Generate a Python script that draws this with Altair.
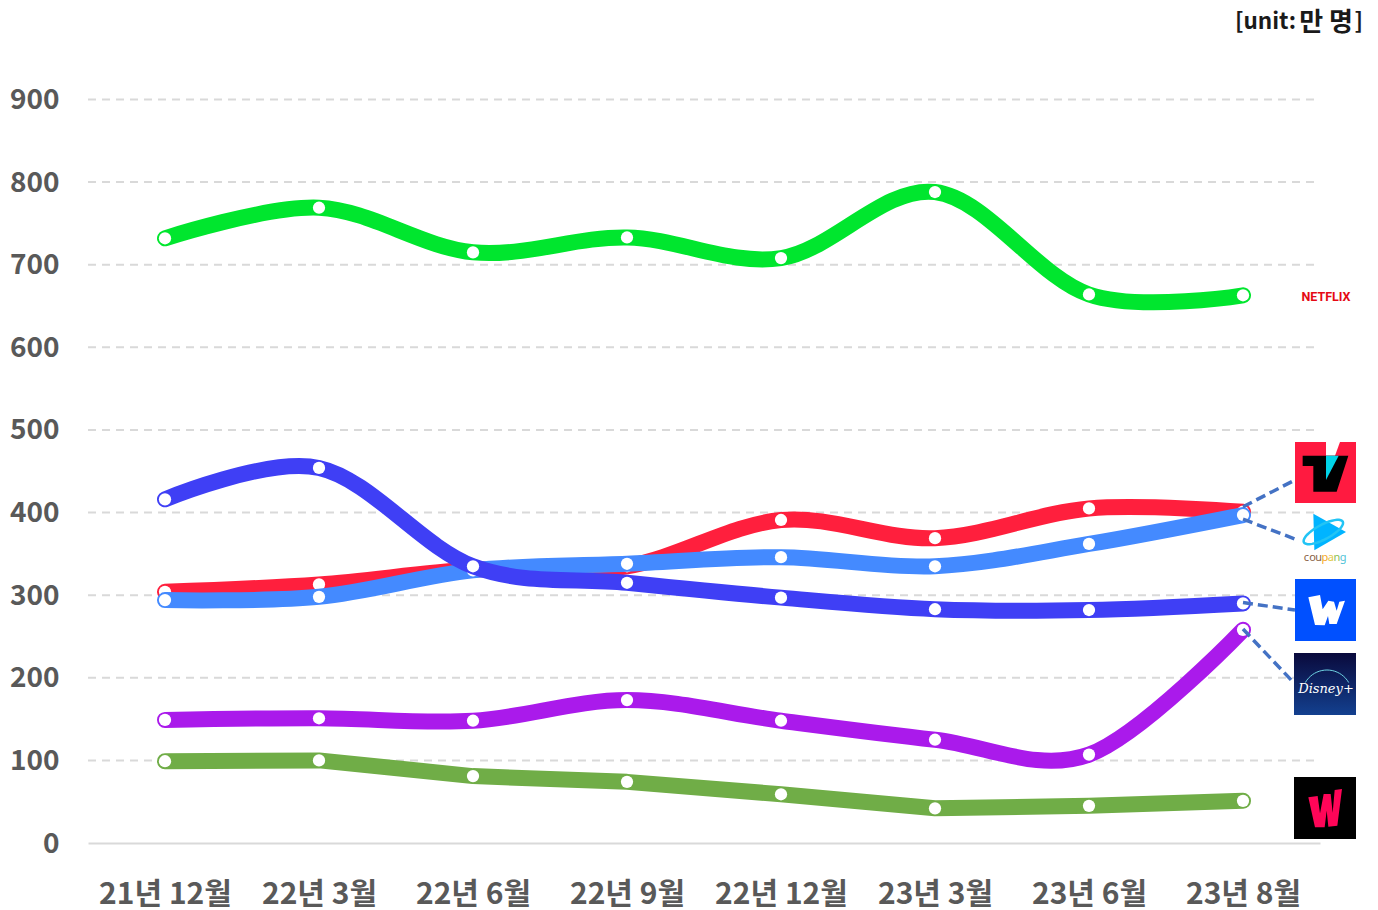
import math
import altair as alt
import pandas as pd

periods = ["21년 12월", "22년 3월", "22년 6월", "22년 9월", "22년 12월", "23년 3월", "23년 6월", "23년 8월"]
netflix = [732, 769, 715, 733, 708, 788, 664, 663]
watcha = [99, 100, 81, 74, 59, 42, 45, 51]
disney = [149, 151, 148, 173, 148, 125, 107, 258]
tving = [304, 313, 331, 335, 391, 369, 405, 401]
coupang = [294, 298, 330, 338, 346, 335, 362, 397]
wavve = [416, 454, 335, 315, 297, 283, 282, 290]
y_ticks = [100, 200, 300, 400, 500, 600, 700, 800, 900]

series = [
    ("Netflix", netflix, "#00E62E", "cardinal"),
    ("Watcha", watcha, "#70AD47", "linear"),
    ("Disney+", disney, "#AA1AEB", "cardinal"),
    ("TVING", tving, "#FF1F3D", "cardinal"),
    ("Coupang Play", coupang, "#448AFF", "cardinal"),
    ("Wavve", wavve, "#3F3FF5", "cardinal"),
]

W, H = 1232, 743.5
LEFT, TOP = 88, 99.5
FONT = "Noto Sans CJK KR"
x_scale = alt.Scale(domain=[-0.5, 7.5], range=[0, W], nice=False, zero=False)
y_scale = alt.Scale(domain=[0, 900], range=[H, 0], nice=False)
labels_js = "[" + ",".join(f"'{p}'" for p in periods) + "][datum.value]"


def vx(px):
    return alt.value(px - LEFT)


def vy(px):
    return alt.value(px - TOP)


dummy = pd.DataFrame({"a": [0]})


def rect(x0, x1, y0, y1, fill):
    return alt.Chart(dummy).mark_rect(fill=fill).encode(x=vx(x0), x2=vx(x1), y=vy(y0), y2=vy(y1))


def poly(points, cx, cy, half):
    out = []
    for i, (px, py) in enumerate(points):
        out.append(("M" if i == 0 else "L") + f"{(px - cx) / half:.3f},{(py - cy) / half:.3f}")
    return " ".join(out) + " Z"


def shape(path, x, y, half, fill=None, stroke=None, sw=0):
    kw = {"shape": path, "size": (2 * half) ** 2, "opacity": 1}
    if fill:
        kw.update(fill=fill, filled=True, strokeWidth=0)
    if stroke:
        kw.update(stroke=stroke, filled=False, fillOpacity=0, strokeWidth=sw)
    return alt.Chart(dummy).mark_point(**kw).encode(x=vx(x), y=vy(y))


def text(s, x, y, size, color, **kw):
    return alt.Chart(pd.DataFrame({"t": [s]})).mark_text(
        fontSize=size, color=color, baseline="middle", **kw
    ).encode(x=vx(x), y=vy(y), text="t:N")


layers = []

x_axis = alt.Axis(
    values=list(range(8)), labelExpr=labels_js, ticks=False, grid=False,
    domainColor="#D9D9D9", domainWidth=2, labelFont=FONT, labelFontSize=30, labelFontWeight="bold",
    labelColor="#595959", labelPadding=51, labelOverlap=False, labelBaseline="middle")
y_axis = alt.Axis(
    values=[0] + y_ticks, ticks=False, grid=False, domain=False, labelOffset=1,
    labelFont=FONT, labelFontSize=28, labelFontWeight="bold", labelColor="#595959", labelPadding=29)

# axes
axes = alt.Chart(pd.DataFrame({"i": list(range(8)), "v": [0] * 8})).mark_point(opacity=0).encode(
    x=alt.X("i:Q", scale=x_scale, title=None, axis=x_axis),
    y=alt.Y("v:Q", scale=y_scale, title=None, axis=y_axis),
)
layers.append(axes)

# grid
grid = alt.Chart(pd.DataFrame({"v": y_ticks})).mark_rule(
    color="#D9D9D9", strokeWidth=2, strokeDash=[8, 6]
).encode(x=vx(88), x2=vx(1315), y=alt.Y("v:Q", scale=y_scale))
layers.append(grid)

# series
for name, vals, col, curve in series:
    df = pd.DataFrame({"i": list(range(8)), "v": vals})
    base = alt.Chart(df).encode(
        x=alt.X("i:Q", scale=x_scale),
        y=alt.Y("v:Q", scale=y_scale),
    )
    if curve == "cardinal":
        line = base.mark_line(color=col, strokeWidth=16, interpolate="cardinal", tension=0, strokeCap="round")
    else:
        line = base.mark_line(color=col, strokeWidth=16, interpolate="linear", strokeCap="round", strokeJoin="round")
    layers.append(line)
    layers.append(base.mark_point(filled=True, fill="white", strokeWidth=0, size=150, opacity=1))

# connectors
conn_start = [(7, 407, 1295, 480), (7, 392, 1295, 539), (7, 291, 1295, 610), (7, 259, 1294, 683)]
for sx, sv, ex, ey in conn_start:
    layers.append(
        alt.Chart(pd.DataFrame({"i": [sx], "v": [sv]})).mark_rule(
            color="#4472C4", strokeWidth=3.5, strokeDash=[10, 5]
        ).encode(
            x=alt.X("i:Q", scale=x_scale), y=alt.Y("v:Q", scale=y_scale),
            x2=vx(ex), y2=vy(ey),
        )
    )

# NETFLIX
layers.append(text("NETFLIX", 1326, 297, 12.5, "#E50914", font="Roboto", fontWeight="bold", align="center"))

# TVING
layers.append(rect(1295, 1356, 442, 503, "#FF1A40"))
cx, cy, hf = 436.5, 637.5, 91.5
sx, sy = 1325.5, 472.5
layers.append(shape(poly([(438, 546), (480, 546), (465, 587), (438, 587)], cx, cy, hf), sx, sy, 30.5, fill="#FFFFFF"))
layers.append(shape(poly([(368, 587), (505, 587), (470, 695), (400, 695), (400, 618), (368, 618)], cx, cy, hf), sx, sy, 30.5, fill="#000000"))
layers.append(shape(poly([(438, 587), (476, 587), (438, 660)], cx, cy, hf), sx, sy, 30.5, fill="#00D4E8"))

# Coupang play
cx, cy, hf = 436.5, 815, 60
sx, sy = 1325.5, 532
layers.append(shape(poly([(400, 760), (498, 815), (403, 870)], cx, cy, hf), sx, sy, 20, fill="#00B4FF"))
ring = []
for k in range(40):
    t = 2 * math.pi * k / 40
    ex, ey = 66 * math.cos(t), 22 * math.sin(t)
    ang = math.radians(-28)
    ring.append((430 + ex * math.cos(ang) - ey * math.sin(ang), 815 + ex * math.sin(ang) + ey * math.cos(ang)))
layers.append(shape(poly(ring, cx, cy, hf), sx, sy, 20, stroke="#22C4F5", sw=2.5))
letters = [("c", "#8A6246"), ("o", "#8A6246"), ("u", "#8A6246"), ("p", "#F5A623"), ("a", "#E3CB4A"), ("n", "#8CC152"), ("g", "#4FC3D7")]
for k, (ch, col) in enumerate(letters):
    layers.append(text(ch, 1306.5 + k * 6.1, 558, 11, col, font="Noto Sans", align="center"))

# Wavve
layers.append(rect(1295, 1356, 579, 641, "#0050FF"))
cx, cy, hf = 436.5, 120, 91.5
sx, sy = 1325.5, 610
w_wavve = [(385, 82), (420, 75), (428, 118), (445, 92), (462, 95), (470, 122), (478, 95), (495, 92), (470, 162), (448, 162), (444, 138), (434, 166), (405, 165)]
layers.append(shape(poly(w_wavve, cx, cy, hf), sx, sy, 30.5, fill="#FFFFFF"))

# Disney+
grad = alt.Gradient(gradient="linear", x1=0, y1=0, x2=0, y2=1,
                    stops=[alt.GradientStop(color="#0A0A3C", offset=0), alt.GradientStop(color="#13408F", offset=1)])
layers.append(alt.Chart(dummy).mark_rect(fill=grad).encode(x=vx(1294), x2=vx(1356), y=vy(653), y2=vy(715)))
layers.append(text("Disney+", 1326, 689, 13, "#FFFFFF", font="DejaVu Serif", fontStyle="italic", align="center"))
arc = []
for k in range(21):
    t = math.radians(-150 + 120 * k / 20)
    arc.append((1327 + 25 * math.cos(t), 695 + 25 * math.sin(t)))
arc_path = " ".join(("M" if i == 0 else "L") + f"{(px - 1326) / 31:.3f},{(py - 684) / 31:.3f}" for i, (px, py) in enumerate(arc))
layers.append(shape(arc_path, 1326, 684, 31, stroke="#6FD4E4", sw=1))

# Watcha
layers.append(rect(1294, 1356, 777, 839, "#000000"))
cx, cy, hf = 435, 714, 93
sx, sy = 1325, 808
w_watcha = [(385, 682), (413, 678), (420, 730), (431, 672), (452, 672), (458, 728), (464, 660), (486, 657), (472, 767), (445, 770), (440, 722), (434, 772), (405, 772)]
layers.append(shape(poly(w_watcha, cx, cy, hf), sx, sy, 31, fill="#FF0558"))

# unit
layers.append(text("[unit:", 1296, 22, 22.5, "#1A1A1A", font=FONT, fontWeight="bold", align="right"))
layers.append(text("만 명", 1326, 23, 26, "#1A1A1A", font=FONT, fontWeight="bold", align="center"))
layers.append(text("]", 1363, 22, 22.5, "#1A1A1A", font=FONT, fontWeight="bold", align="right"))

chart = alt.layer(*layers).resolve_scale(x="shared", y="shared").properties(
    width=W, height=H,
    padding={"left": 80, "top": 91.5, "right": 50, "bottom": 75},
    autosize=alt.AutoSizeParams(type="none"),
).configure_view(stroke=None).configure_axis(labelFlush=False)

chart.save("out.html", embed_options={"renderer": "svg", "actions": False})
